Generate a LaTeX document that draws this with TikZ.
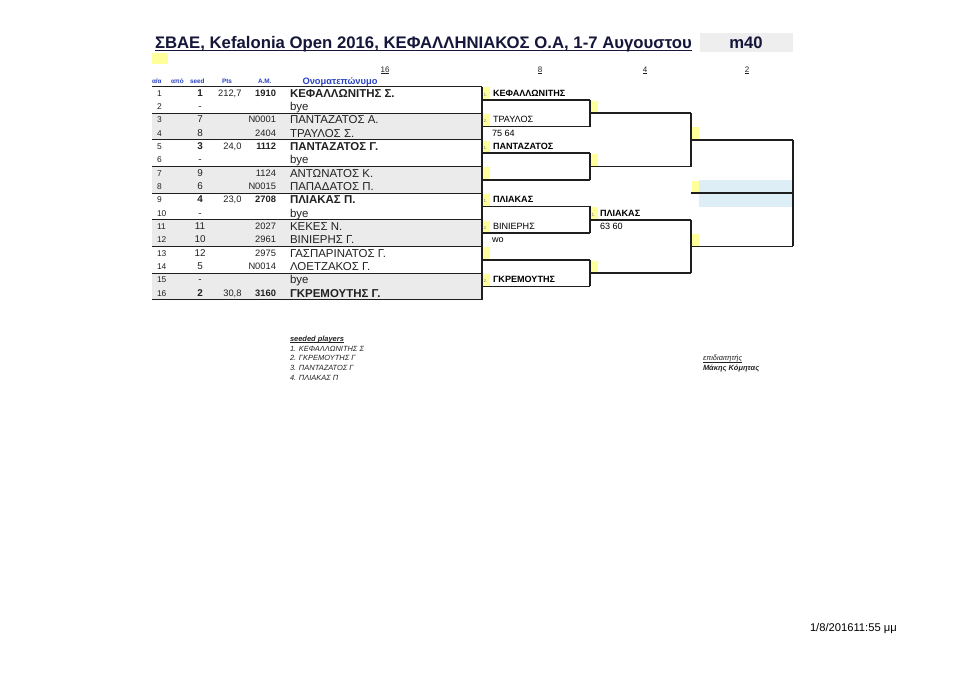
\documentclass[tikz,border=0pt]{standalone}
\usepackage{fontspec}
\setmainfont{Liberation Sans}
\definecolor{rowgray}{HTML}{EBEBEB}
\definecolor{ylwc}{HTML}{FFFF9C}
\definecolor{bluec}{HTML}{DDEEF6}
\definecolor{hblue}{HTML}{2A43C4}
\definecolor{txtc}{HTML}{222222}
\definecolor{lc}{HTML}{1E1E1E}
\definecolor{titlec}{HTML}{16163A}
\definecolor{boxgray}{HTML}{EEEEEE}
\tikzset{
  plain0/.style={inner sep=0pt, outer sep=0pt},
  rnum/.style={plain0, anchor=base west, font=\fontsize{6.3}{7}\selectfont, text=txtc},
  seedc/.style={plain0, anchor=base, font=\fontsize{7.4}{8}\selectfont, text=txtc},
  numr/.style={plain0, anchor=base east, font=\fontsize{7}{8}\selectfont, text=txtc},
  namec/.style={plain0, anchor=base west, font=\fontsize{8.6}{9}\selectfont, text=txtc},
  hdr/.style={plain0, anchor=base west, font=\fontsize{4.8}{5}\selectfont\bfseries, text=hblue},
  brk/.style={plain0, anchor=base west, font=\fontsize{6.8}{8}\selectfont, text=black},
  tinyn/.style={plain0, anchor=base west, font=\fontsize{3.4}{4}\selectfont, text=gray},
  rndh/.style={plain0, anchor=base, font=\fontsize{6}{7}\selectfont, text=txtc},
  note/.style={plain0, anchor=base west, font=\fontsize{5.6}{7}\selectfont\itshape, text=txtc},
  bline/.style={line width=1.1pt, draw=lc},
  tline/.style={line width=0.9pt, draw=lc},
  uline/.style={line width=0.45pt},
}
\newcommand{\rowtop}[1]{86.5+(#1-1)*13.333}
\newcommand{\ulnode}[2]{\draw[uline,#2] ([yshift=-1.1pt]#1.base west) -- ([yshift=-1.1pt]#1.base east);}
\begin{document}
\begin{tikzpicture}[x=0.75pt,y=-0.75pt]
\useasboundingbox (0,0) rectangle (960,678);
\fill[white] (0,0) rectangle (960,678);

% title
\node[plain0, anchor=base west, font=\fontsize{12.55}{14}\selectfont\bfseries, text=titlec] (title) at (155,48) {ΣΒΑΕ, Kefalonia Open 2016, ΚΕΦΑΛΛΗΝΙΑΚΟΣ Ο.Α, 1-7 Αυγουστου};
\draw[line width=0.9pt, titlec] ([yshift=-1.6pt]title.base west) -- ([yshift=-1.6pt]title.base east);
\fill[boxgray] (700,33) rectangle (793,52);
\node[plain0, font=\fontsize{12.5}{14}\selectfont\bfseries, text=titlec] (cat) at (746,43) {m40};
\fill[ylwc] (152,53) rectangle (168,64);

% round headers
\node[rndh] (h16) at (385,72) {16};
\node[rndh] (h8) at (540,72) {8};
\node[rndh] (h4) at (645,72) {4};
\node[rndh] (h2) at (747,72) {2};
\foreach \h in {h16,h8,h4,h2}{\ulnode{\h}{txtc}}

% column headers
\node[hdr] (ca) at (152,83.5) {α/α};
\node[hdr] (cb) at (171,83.5) {από};
\node[hdr] (cc) at (190,83.5) {seed};
\node[hdr] (cd) at (222,83.5) {Pts};
\node[hdr] (ce) at (258,83.5) {A.M.};
\node[plain0, anchor=base, font=\fontsize{7}{8}\selectfont\bfseries, text=hblue] (cf) at (340,84) {Ονοματεπώνυμο};

% grey rows
\foreach \r in {3,4,7,8,11,12,15,16}
  {\fill[rowgray] (152,{\rowtop{\r}}) rectangle (482,{\rowtop{\r}+13.333});}

% yellow and blue cells in bracket
\fill[bluec] (699,180) rectangle (792,206.5);
\foreach \r in {1,3,5,7,9,11,13,15}
  {\fill[ylwc] (482.5,{\rowtop{\r}+0.8}) rectangle (490,{\rowtop{\r}+12.6});}
\foreach \r in {2,6,10,14}
  {\fill[ylwc] (590.5,{\rowtop{\r}+0.8}) rectangle (598,{\rowtop{\r}+12.6});}
\foreach \r in {4,8,12}
  {\fill[ylwc] (691.5,{\rowtop{\r}+0.8}) rectangle (699,{\rowtop{\r}+12.6});}

% table lines
\foreach \k in {0,...,8}
  {\draw[tline] (152,{86.5+\k*26.667}) -- (482,{86.5+\k*26.667});}
\draw[bline] (482,86.5) -- (482,299.8);

% row numbers
\foreach \r in {1,...,16}
  {\node[rnum] (rn\r) at (157,{82.8+13.333*\r}) {\r};}

% seeds
\foreach \r/\s/\b in {1/1/1,2/-/0,3/7/0,4/8/0,5/3/1,6/-/0,7/9/0,8/6/0,9/4/1,10/-/0,11/11/0,12/10/0,13/12/0,14/5/0,15/-/0,16/2/1}
  {\node[seedc] (sd\r) at (200,{82.8+13.333*\r}) {\ifnum\b=1 \bfseries\fi\s};}

% points
\foreach \r/\p in {1/{212,7},5/{24,0},9/{23,0},16/{30,8}}
  {\node[numr] (pt\r) at (241.5,{82.8+13.333*\r}) {\p};}

% A.M.
\foreach \r/\a/\b in {1/1910/1,3/N0001/0,4/2404/0,5/1112/1,7/1124/0,8/N0015/0,9/2708/1,11/2027/0,12/2961/0,13/2975/0,14/N0014/0,16/3160/1}
  {\node[numr] (am\r) at (276,{82.8+13.333*\r}) {\ifnum\b=1 \bfseries\fi\a};}

% names
\foreach \r/\n/\b in {1/{ΚΕΦΑΛΛΩΝΙΤΗΣ Σ.}/1,2/bye/0,3/{ΠΑΝΤΑΖΑΤΟΣ Α.}/0,4/{ΤΡΑΥΛΟΣ Σ.}/0,5/{ΠΑΝΤΑΖΑΤΟΣ Γ.}/1,6/bye/0,7/{ΑΝΤΩΝΑΤΟΣ Κ.}/0,8/{ΠΑΠΑΔΑΤΟΣ Π.}/0,9/{ΠΛΙΑΚΑΣ Π.}/1,10/bye/0,11/{ΚΕΚΕΣ Ν.}/0,12/{ΒΙΝΙΕΡΗΣ Γ.}/0,13/{ΓΑΣΠΑΡΙΝΑΤΟΣ Γ.}/0,14/{ΛΟΕΤΖΑΚΟΣ Γ.}/0,15/bye/0,16/{ΓΚΡΕΜΟΥΤΗΣ Γ.}/1}
  {\node[namec] (nm\r) at (290,{83.8+13.333*\r}) {\ifnum\b=1 \bfseries\fi\n};}

% bracket lines
\foreach \r in {1,3,5,7,9,11,13,15}
  {\draw[bline] (482,{86.5+\r*13.333}) -- (590,{86.5+\r*13.333});}
\foreach \r in {1,5,9,13}
  {\draw[bline] (590,{86.5+\r*13.333}) -- (590,{86.5+(\r+2)*13.333});}
\foreach \r in {2,6,10,14}
  {\draw[bline] (590,{86.5+\r*13.333}) -- (691,{86.5+\r*13.333});}
\foreach \r in {2,10}
  {\draw[bline] (691,{86.5+\r*13.333}) -- (691,{86.5+(\r+4)*13.333});}
\foreach \r in {4,8,12}
  {\draw[bline] (691,{86.5+\r*13.333}) -- (793,{86.5+\r*13.333});}
\draw[bline] (793,{86.5+4*13.333}) -- (793,{86.5+12*13.333});

% round of 8 entries
\foreach \r/\t in {1/1.,3/2.,5/1.,9/1.,11/2.,15/2.}
  {\node[tinyn] (tq\r) at (483.5,{82.8+13.333*\r}) {\t};}
\node[brk, font=\fontsize{6.8}{8}\selectfont\bfseries] (q1) at (493,{82.8+13.333*1}) {ΚΕΦΑΛΛΩΝΙΤΗΣ};
\node[brk] (q3) at (493,{82.8+13.333*3}) {ΤΡΑΥΛΟΣ};
\node[brk] (s4) at (492,{82.8+13.333*4}) {75 64};
\node[brk, font=\fontsize{6.8}{8}\selectfont\bfseries] (q5) at (493,{82.8+13.333*5}) {ΠΑΝΤΑΖΑΤΟΣ};
\node[brk, font=\fontsize{6.8}{8}\selectfont\bfseries] (q9) at (493,{82.8+13.333*9}) {ΠΛΙΑΚΑΣ};
\node[brk] (q11) at (493,{82.8+13.333*11}) {ΒΙΝΙΕΡΗΣ};
\node[brk] (s12) at (492,{82.8+13.333*12}) {wo};
\node[brk, font=\fontsize{6.8}{8}\selectfont\bfseries] (q15) at (493,{82.8+13.333*15}) {ΓΚΡΕΜΟΥΤΗΣ};

% round of 4 entries
\node[tinyn] (ts10) at (591.5,{82.8+13.333*10}) {1.};
\node[brk, font=\fontsize{6.8}{8}\selectfont\bfseries] (f10) at (600,{82.8+13.333*10}) {ΠΛΙΑΚΑΣ};
\node[brk] (s11) at (600,{82.8+13.333*11}) {63 60};

% seeded players
\node[note, font=\fontsize{5.6}{7}\selectfont\itshape\bfseries] (sp) at (290,341) {seeded players};
\ulnode{sp}{txtc}
\node[note] (sp1) at (290,351) {1. ΚΕΦΑΛΛΩΝΙΤΗΣ Σ};
\node[note] (sp2) at (290,360.7) {2. ΓΚΡΕΜΟΥΤΗΣ Γ};
\node[note] (sp3) at (290,370.4) {3. ΠΑΝΤΑΖΑΤΟΣ Γ};
\node[note] (sp4) at (290,380.1) {4. ΠΛΙΑΚΑΣ Π};

% referee
\node[note] (ref) at (703,360.7) {επιδιαιτητής};
\ulnode{ref}{txtc}
\node[note, font=\fontsize{5.6}{7}\selectfont\itshape\bfseries] (refn) at (703,370.4) {Μάκης Κόμητας};

% date
\node[plain0, anchor=base west, font=\fontsize{8.4}{10}\selectfont, text=black] (date) at (810,631.5) {1/8/201611:55 μμ};
\end{tikzpicture}
\end{document}
